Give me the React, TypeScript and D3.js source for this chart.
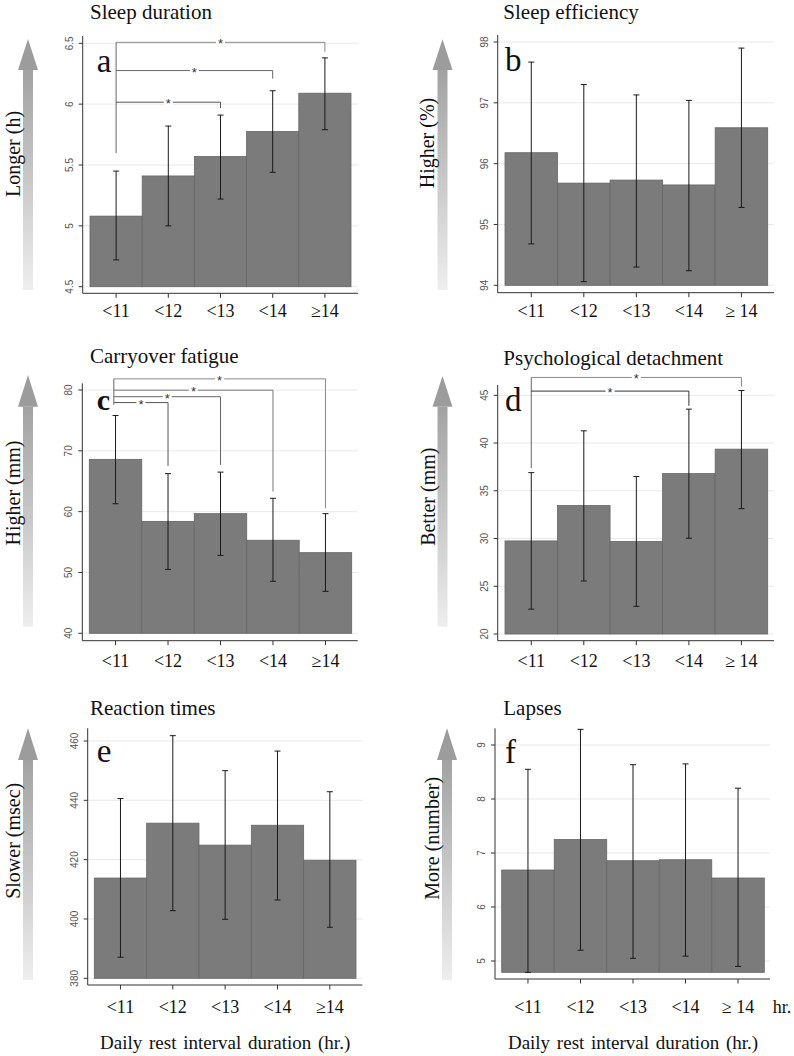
import React from "react";
import * as d3 from "d3";

// ---------- DATA ----------
const catsA = ["<11", "<12", "<13", "<14", "≥14"];
const catsB = ["<11", "<12", "<13", "<14", "≥ 14"];

const sleepDurationMean = [5.08, 5.41, 5.57, 5.775, 6.09];
const sleepDurationLow = [4.72, 5.0, 5.22, 5.44, 5.79];
const sleepDurationHigh = [5.45, 5.82, 5.91, 6.11, 6.38];
const sleepDurationTicks = [4.5, 5, 5.5, 6, 6.5];

const sleepEffMean = [96.18, 95.68, 95.73, 95.65, 96.59];
const sleepEffLow = [94.68, 94.06, 94.3, 94.24, 95.28];
const sleepEffHigh = [97.67, 97.3, 97.13, 97.04, 97.9];
const sleepEffTicks = [94, 95, 96, 97, 98];

const fatigueMean = [68.6, 58.4, 59.67, 55.3, 53.26];
const fatigueLow = [61.3, 50.5, 52.8, 48.55, 46.9];
const fatigueHigh = [75.8, 66.25, 66.5, 62.2, 59.67];
const fatigueTicks = [40, 50, 60, 70, 80];

const detachMean = [29.75, 33.45, 29.7, 36.8, 39.36];
const detachLow = [22.6, 25.55, 22.9, 30.03, 33.13];
const detachHigh = [36.9, 41.28, 36.5, 43.55, 45.5];
const detachTicks = [20, 25, 30, 35, 40, 45];

const rtMean = [413.8, 432.3, 424.9, 431.6, 419.8];
const rtLow = [387.1, 402.8, 399.9, 406.4, 397.2];
const rtHigh = [440.6, 461.8, 450.0, 456.6, 442.9];
const rtTicks = [380, 400, 420, 440, 460];

const lapsesMean = [6.685, 7.25, 6.857, 6.875, 6.537];
const lapsesLow = [4.79, 5.2, 5.05, 5.09, 4.9];
const lapsesHigh = [8.55, 9.29, 8.635, 8.65, 8.2];
const lapsesTicks = [5, 6, 7, 8, 9];

// significance brackets: target category index, bracket level, drop level (in y units)
const bracketsA = [
  { to: 4, y: 6.508, drop: 6.43, color: "#888" },
  { to: 3, y: 6.276, drop: 6.21, color: "#666" },
  { to: 2, y: 6.016, drop: 5.967, color: "#555" },
];
const bracketsC = [
  { to: 4, y: 81.83, drop: 60.56, color: "#888" },
  { to: 3, y: 79.97, drop: 63.29, color: "#777" },
  { to: 2, y: 78.9, drop: 67.68, color: "#666" },
  { to: 1, y: 77.93, drop: 67.52, color: "#555" },
];
const bracketsD = [
  { to: 4, y: 46.87, drop: 45.92, color: "#888" },
  { to: 3, y: 45.44, drop: 43.9, color: "#333" },
];

// ---------- LAYOUT ----------
const panels = [
  {
    key: "a", title: "Sleep duration", ylabel: "Longer (h)", cats: catsA,
    mean: sleepDurationMean, low: sleepDurationLow, high: sleepDurationHigh, ticks: sleepDurationTicks,
    yDomain: [4.5, 6.5], yRange: [286.7, 43.3], band: [90, 351], base: 4.5,
    axisX: 82.7, axisTop: 36, axisBottom: 293.3, axisRight: 358,
    titlePos: [90, 19], letterPos: [96.7, 71.7], labelBase: 316.5,
    ylabelX: 12.5, ylabelY: 154, arrowX: 28, arrowTop: 39, arrowNeck: 70, arrowBottom: 290,
    brackets: bracketsA, bracketLeftBottom: 5.597, bracketXOff: 0,
  },
  {
    key: "b", title: "Sleep efficiency", ylabel: "Higher (%)", cats: catsB,
    mean: sleepEffMean, low: sleepEffLow, high: sleepEffHigh, ticks: sleepEffTicks,
    yDomain: [94, 98], yRange: [285.3, 42], band: [505, 767.7], base: 94,
    axisX: 497.7, axisTop: 35, axisBottom: 292.7, axisRight: 774,
    titlePos: [503.3, 19], letterPos: [505, 71], labelBase: 316.5,
    ylabelX: 426.7, ylabelY: 143, arrowX: 442.5, arrowTop: 39.3, arrowNeck: 70, arrowBottom: 290,
    brackets: [], bracketLeftBottom: 0, bracketXOff: 0,
  },
  {
    key: "c", title: "Carryover fatigue", ylabel: "Higher (mm)", cats: catsA,
    mean: fatigueMean, low: fatigueLow, high: fatigueHigh, ticks: fatigueTicks,
    yDomain: [40, 80], yRange: [633.3, 390], band: [89.3, 351.7], base: 40,
    axisX: 82.3, axisTop: 383.3, axisBottom: 640.7, axisRight: 357.7,
    titlePos: [90, 363.3], letterPos: [96.7, 410], labelBase: 667,
    ylabelX: 12.5, ylabelY: 493, arrowX: 28, arrowTop: 375, arrowNeck: 406.7, arrowBottom: 626.7,
    brackets: bracketsC, bracketLeftBottom: 77.57, bracketXOff: -1.7, letterBold: true,
  },
  {
    key: "d", title: "Psychological detachment", ylabel: "Better (mm)", cats: catsB,
    mean: detachMean, low: detachLow, high: detachHigh, ticks: detachTicks,
    yDomain: [20, 45], yRange: [634, 395.3], band: [505, 767.7], base: 20,
    axisX: 497.7, axisTop: 385, axisBottom: 640.7, axisRight: 774,
    titlePos: [503.3, 365], letterPos: [505, 411], labelBase: 667,
    ylabelX: 428.3, ylabelY: 496.7, arrowX: 442.5, arrowTop: 376, arrowNeck: 406.7, arrowBottom: 626.7,
    brackets: bracketsD, bracketLeftBottom: 37.37, bracketXOff: 0,
  },
  {
    key: "e", title: "Reaction times", ylabel: "Slower (msec)", cats: catsA,
    mean: rtMean, low: rtLow, high: rtHigh, ticks: rtTicks,
    yDomain: [380, 460], yRange: [978.3, 741], band: [94.3, 356], base: 380,
    axisX: 87.7, axisTop: 728.3, axisBottom: 985, axisRight: 362.3,
    titlePos: [90, 715], letterPos: [96.7, 761.7], labelBase: 1012.7,
    ylabelX: 12.5, ylabelY: 840.8, arrowX: 28, arrowTop: 728.3, arrowNeck: 760, arrowBottom: 980,
    brackets: [], bracketLeftBottom: 0, bracketXOff: 0, xTitle: true,
  },
  {
    key: "f", title: "Lapses", ylabel: "More (number)", cats: catsB,
    mean: lapsesMean, low: lapsesLow, high: lapsesHigh, ticks: lapsesTicks,
    yDomain: [5, 9], yRange: [961, 745], band: [501.7, 764.3], base: 4.79,
    axisX: 495, axisTop: 728.3, axisBottom: 979, axisRight: 770,
    titlePos: [503.3, 715], letterPos: [505, 763.3], labelBase: 1012.7,
    ylabelX: 431.7, ylabelY: 838.3, arrowX: 447, arrowTop: 728.3, arrowNeck: 760, arrowBottom: 980,
    brackets: [], bracketLeftBottom: 0, bracketXOff: 0, xTitle: true, hr: true,
  },
];

const SERIF = "'Liberation Serif', 'Times New Roman', serif";
const SANS = "'Liberation Sans', Arial, sans-serif";

function Panel({ p }: { p: any }) {
  const y = d3.scaleLinear().domain(p.yDomain).range(p.yRange);
  const x = d3.scaleBand<string>().domain(p.cats).range(p.band).padding(0);
  const bw = x.bandwidth();
  const cx = (i: number) => (x(p.cats[i]) as number) + bw / 2;
  const leftX = cx(0) + p.bracketXOff;
  const topBracket = p.brackets.length ? d3.max(p.brackets, (b: any) => b.y) : 0;

  return (
    <g>
      {/* arrow */}
      <rect x={p.arrowX - 5} y={p.arrowNeck} width={10} height={p.arrowBottom - p.arrowNeck} fill="url(#arrowGrad)" />
      <polygon
        points={`${p.arrowX},${p.arrowTop} ${p.arrowX - 10},${p.arrowNeck} ${p.arrowX + 10},${p.arrowNeck}`}
        fill="#9c9c9c"
      />
      <text
        transform={`translate(${p.ylabelX},${p.ylabelY}) rotate(-90)`}
        textAnchor="middle"
        dominantBaseline="central"
        fontFamily={SERIF}
        fontSize={20}
        fill="#111"
      >
        {p.ylabel}
      </text>

      {/* title */}
      <text x={p.titlePos[0]} y={p.titlePos[1]} fontFamily={SERIF} fontSize={21} fill="#111">
        {p.title}
      </text>

      {/* gridlines */}
      {p.ticks.map((t: number) => (
        <line key={"g" + t} x1={p.axisX} x2={p.axisRight} y1={y(t)} y2={y(t)} stroke="#e9e9e9" strokeWidth={1} />
      ))}

      {/* bars */}
      {p.cats.map((c: string, i: number) => (
        <rect
          key={"b" + c}
          x={x(c)}
          y={y(p.mean[i])}
          width={bw}
          height={y(p.base) - y(p.mean[i])}
          fill="#7b7b7b"
          stroke="#666"
          strokeWidth={0.8}
        />
      ))}

      {/* error bars */}
      {p.cats.map((c: string, i: number) => {
        const xc = cx(i);
        return (
          <g key={"e" + c} stroke="#1a1a1a" strokeWidth={1}>
            <line x1={xc} x2={xc} y1={y(p.low[i])} y2={y(p.high[i])} />
            <line x1={xc - 3} x2={xc + 3} y1={y(p.low[i])} y2={y(p.low[i])} />
            <line x1={xc - 3} x2={xc + 3} y1={y(p.high[i])} y2={y(p.high[i])} />
          </g>
        );
      })}

      {/* axes */}
      <line x1={p.axisX} x2={p.axisX} y1={p.axisTop} y2={p.axisBottom} stroke="#333" strokeWidth={1} />
      <line x1={p.axisX} x2={p.axisRight} y1={p.axisBottom} y2={p.axisBottom} stroke="#333" strokeWidth={1} />
      {p.ticks.map((t: number) => (
        <g key={"t" + t}>
          <line x1={p.axisX - 4} x2={p.axisX} y1={y(t)} y2={y(t)} stroke="#333" strokeWidth={1} />
          <text
            transform={`translate(${p.axisX - 10},${y(t)}) rotate(-90)`}
            textAnchor="middle"
            fontFamily={SANS}
            fontSize={10}
            fill="#555"
          >
            {String(t)}
          </text>
        </g>
      ))}
      {p.cats.map((c: string, i: number) => (
        <g key={"x" + c}>
          <line x1={cx(i)} x2={cx(i)} y1={p.axisBottom} y2={p.axisBottom + 4.5} stroke="#333" strokeWidth={1} />
          <text x={cx(i)} y={p.labelBase} textAnchor="middle" fontFamily={SERIF} fontSize={18} fill="#111">
            {c}
          </text>
        </g>
      ))}

      {/* panel letter */}
      <text
        x={p.letterPos[0]}
        y={p.letterPos[1]}
        fontFamily={SERIF}
        fontSize={p.letterBold ? 30 : 33}
        fontWeight={p.letterBold ? "bold" : "normal"}
        fill="#111"
      >
        {p.key}
      </text>

      {/* significance brackets */}
      {p.brackets.length > 0 && (
        <line x1={leftX} x2={leftX} y1={y(topBracket)} y2={y(p.bracketLeftBottom)} stroke="#666" strokeWidth={1} />
      )}
      {p.brackets.map((b: any, k: number) => {
        const xr = cx(b.to);
        const mid = (leftX + xr) / 2;
        return (
          <g key={"br" + k}>
            <line x1={leftX} x2={xr} y1={y(b.y)} y2={y(b.y)} stroke={b.color} strokeWidth={1} />
            <line x1={xr} x2={xr} y1={y(b.y)} y2={y(b.drop)} stroke={b.color} strokeWidth={1} />
            <rect x={mid - 4.5} y={y(b.y) - 3} width={9} height={6} fill="#fff" />
            <text x={mid} y={y(b.y) + 6} textAnchor="middle" fontFamily={SANS} fontSize={13} fill="#333">
              *
            </text>
          </g>
        );
      })}

      {p.xTitle && (
        <text
          x={(p.band[0] + p.band[1]) / 2 - (p.hr ? 0 : 0)}
          y={1049.3}
          textAnchor="middle"
          fontFamily={SERIF}
          fontSize={19}
          wordSpacing={2}
          fill="#111"
        >
          Daily rest interval duration (hr.)
        </text>
      )}
      {p.hr && (
        <text x={772.7} y={p.labelBase} fontFamily={SERIF} fontSize={18} fill="#111">
          hr.
        </text>
      )}
    </g>
  );
}

export default function App() {
  return (
    <svg
      width={794}
      height={1056}
      viewBox="0 0 794 1056"
      style={{ position: "absolute", left: 0, top: 0, background: "#fff" }}
    >
      <defs>
        <linearGradient id="arrowGrad" x1="0" y1="0" x2="0" y2="1">
          <stop offset="0%" stopColor="#a2a2a2" />
          <stop offset="100%" stopColor="#eeeeee" />
        </linearGradient>
      </defs>
      <rect x={0} y={0} width={794} height={1056} fill="#fff" />
      {panels.map((p) => (
        <Panel key={p.key} p={p} />
      ))}
    </svg>
  );
}
